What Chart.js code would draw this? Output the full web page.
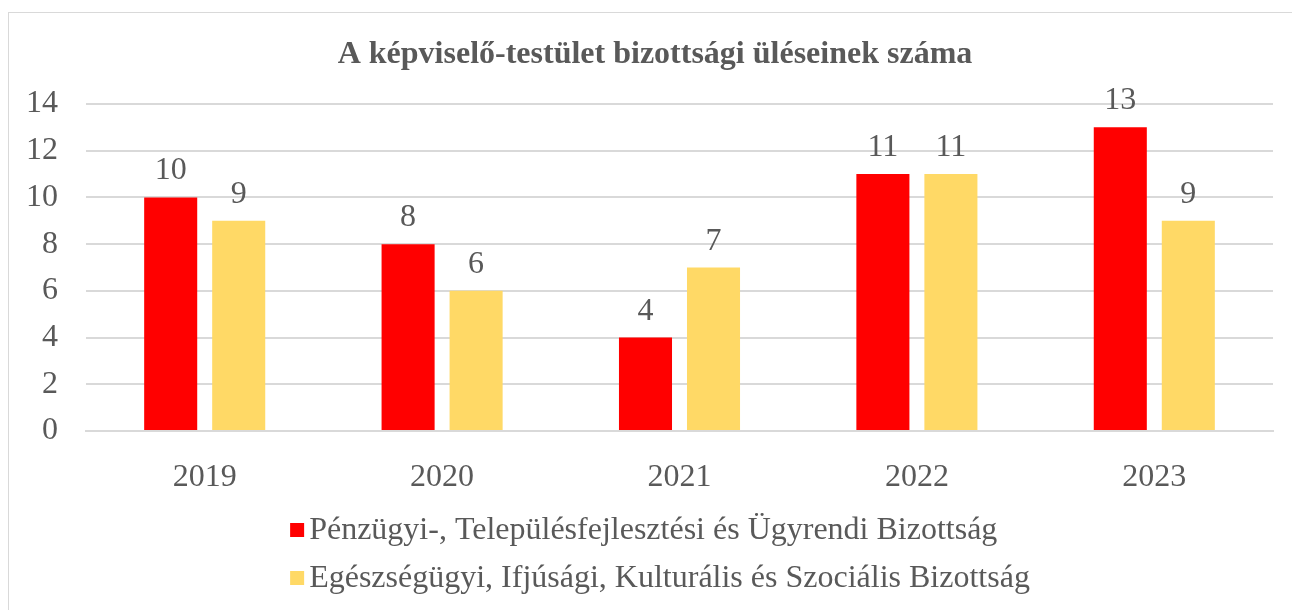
<!DOCTYPE html>
<html>
<head>
<meta charset="utf-8">
<script src="https://cdn.jsdelivr.net/npm/chart.js@4.4.1/dist/chart.umd.min.js"></script>
<style>
    html, body { margin: 0; padding: 0; background: #fff; }
    .wrap { position: relative; width: 1292px; height: 610px; }
    .frame { position: absolute; left: 8px; top: 12px; width: 1290px; height: 610px; border: 1px solid #d9d9d9; box-sizing: border-box; pointer-events: none; }
    canvas { position: absolute; left: 0; top: 0; }
</style>
</head>
<body>
<div class="wrap">
    <canvas id="chart" width="1292" height="610"></canvas>
    <div class="frame"></div>
</div>
<script>
const years = ['2019', '2020', '2021', '2022', '2023'];
const seriesNames = [
    'Pénzügyi-, Településfejlesztési és Ügyrendi Bizottság',
    'Egészségügyi, Ifjúsági, Kulturális és Szociális Bizottság'
];
const penzugyi = [10, 8, 4, 11, 13];
const egeszsegugyi = [9, 6, 7, 11, 9];
const yTicks = [0, 2, 4, 6, 8, 10, 12, 14];
const chartTitle = 'A képviselő-testület bizottsági üléseinek száma';

const FONT = "'Liberation Serif', 'Times New Roman', serif";
const TEXT = '#595959';

// title, centred like the source (a bit right of the canvas middle)
const titlePlugin = {
    id: 'titlePlugin',
    afterDraw(chart) {
        const ctx = chart.ctx;
        ctx.save();
        ctx.font = `bold 32px ${FONT}`;
        ctx.fillStyle = TEXT;
        ctx.textAlign = 'center';
        ctx.textBaseline = 'alphabetic';
        ctx.fillText(chartTitle, 655, 63);
        ctx.restore();
    }
};

// value labels above each bar
const valueLabels = {
    id: 'valueLabels',
    afterDatasetsDraw(chart) {
        const ctx = chart.ctx;
        ctx.save();
        ctx.font = `32px ${FONT}`;
        ctx.fillStyle = TEXT;
        ctx.textAlign = 'center';
        ctx.textBaseline = 'alphabetic';
        chart.data.datasets.forEach((ds, i) => {
            chart.getDatasetMeta(i).data.forEach((bar, j) => {
                ctx.fillText(ds.data[j], bar.x, bar.y - 18);
            });
        });
        ctx.restore();
    }
};

// legend stacked in two left-aligned rows
const stackedLegend = {
    id: 'stackedLegend',
    afterDraw(chart) {
        const ctx = chart.ctx;
        ctx.save();
        ctx.font = `32px ${FONT}`;
        ctx.textBaseline = 'middle';
        const box = 14, gap = 5;
        const maxW = Math.max(...chart.data.datasets.map(d => ctx.measureText(d.label).width)) + box + gap;
        const left = 660 - maxW / 2;
        chart.data.datasets.forEach((ds, i) => {
            const y = chart.chartArea.bottom + 99 + i * 48;
            ctx.fillStyle = ds.backgroundColor;
            ctx.fillRect(left, y - box / 2, box, box);
            ctx.fillStyle = TEXT;
            ctx.fillText(ds.label, left + box + gap, y + 1);
        });
        ctx.restore();
    }
};

new Chart(document.getElementById('chart'), {
    type: 'bar',
    data: {
        labels: years,
        datasets: [
            { label: seriesNames[0], data: penzugyi, backgroundColor: '#FF0000' },
            { label: seriesNames[1], data: egeszsegugyi, backgroundColor: '#FFD966' }
        ]
    },
    options: {
        responsive: false,
        animation: false,
        layout: { padding: { top: 104, left: 0, right: 19, bottom: 119 } },
        datasets: { bar: { categoryPercentage: 0.573, barPercentage: 0.78 } },
        plugins: {
            legend: { display: false },
            tooltip: { enabled: false },
            title: { display: false }
        },
        scales: {
            x: {
                grid: { display: false },
                border: { color: '#d9d9d9', width: 2 },
                ticks: { color: TEXT, font: { family: FONT, size: 32 }, padding: 19 },
                afterFit: s => { s.height = 60; }
            },
            y: {
                min: 0,
                max: 14,
                afterBuildTicks: s => { s.ticks = yTicks.map(v => ({ value: v })); },
                grid: { color: '#d9d9d9', lineWidth: 2, drawTicks: false },
                border: { display: false },
                ticks: { color: TEXT, font: { family: FONT, size: 32 }, padding: 28 },
                afterFit: s => { s.width = 86; }
            }
        }
    },
    plugins: [titlePlugin, valueLabels, stackedLegend]
});
</script>
</body>
</html>
